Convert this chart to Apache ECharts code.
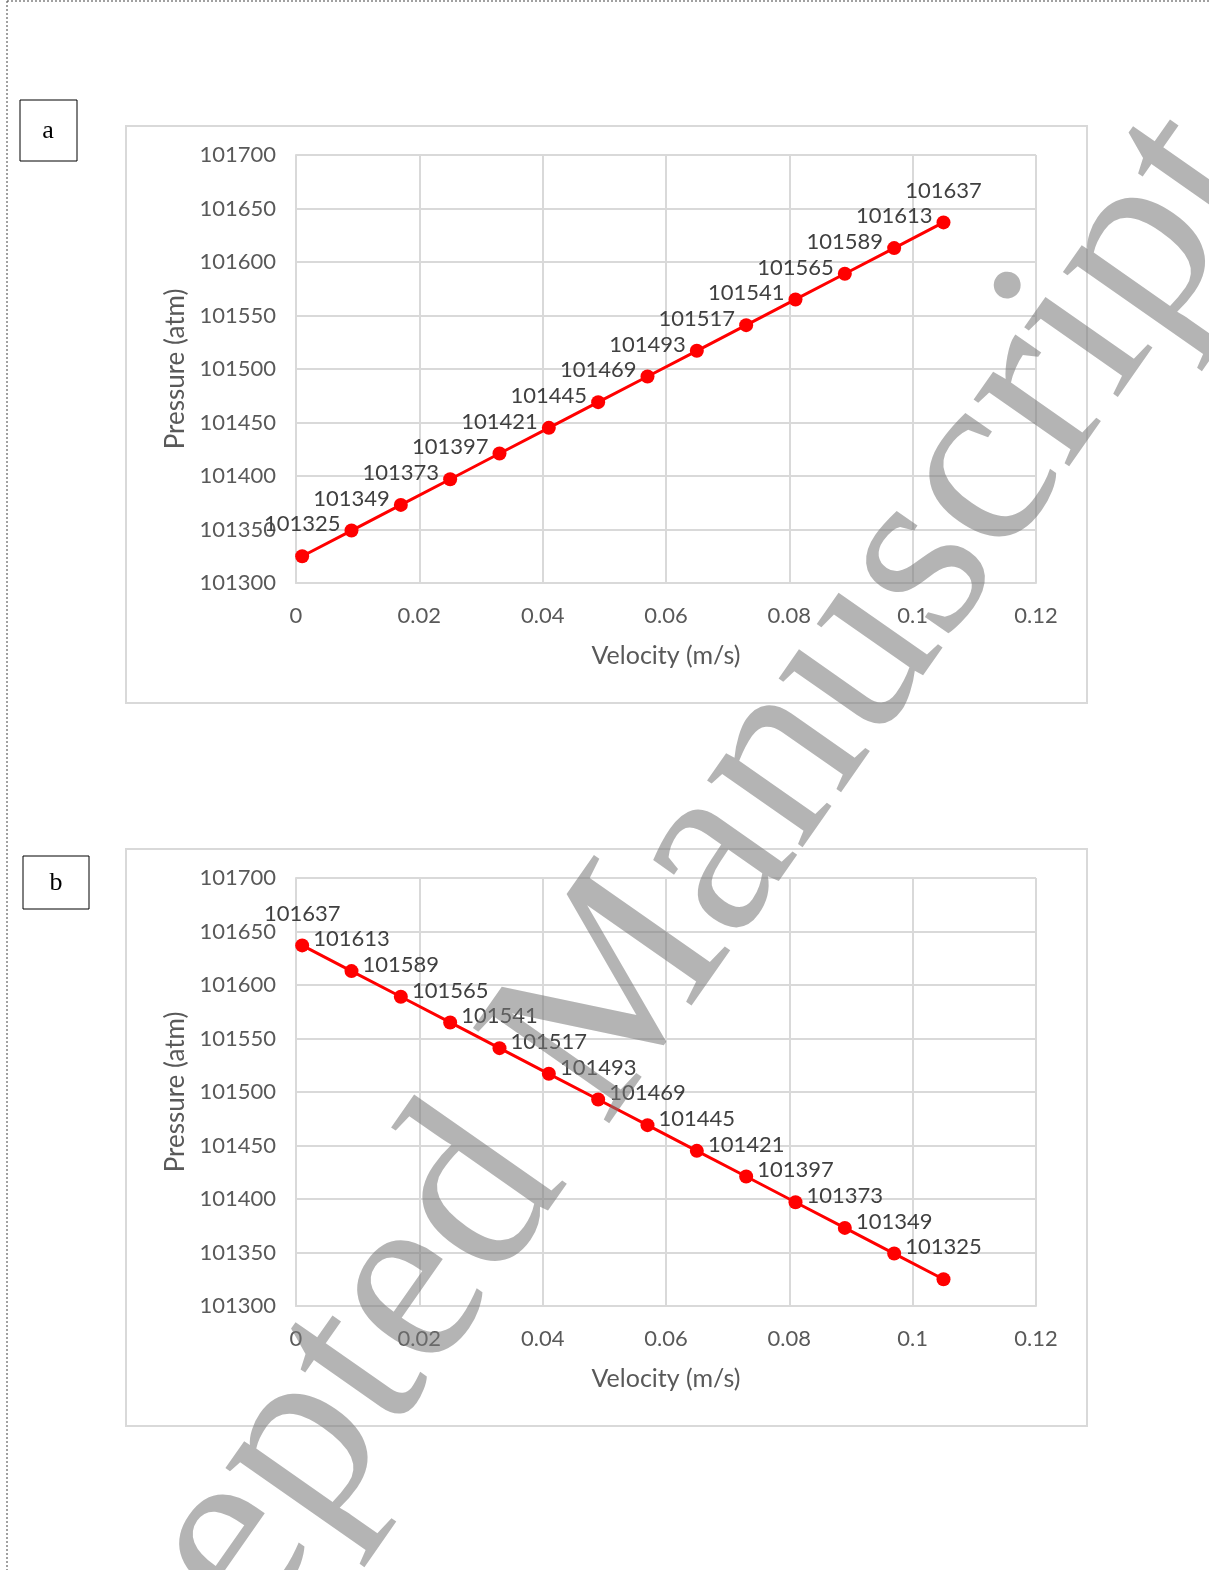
<!DOCTYPE html>
<html>
<head>
<meta charset="utf-8">
<script src="https://cdn.jsdelivr.net/npm/echarts@6/dist/echarts.min.js"></script>
<style>
html,body{margin:0;padding:0;background:#fff;}
#main{width:1209px;height:1570px;}
</style>
</head>
<body>
<div id="main"></div>
<script>
// Data
const velocity = [0.001, 0.009, 0.017, 0.025, 0.033, 0.041, 0.049, 0.057, 0.065, 0.073, 0.081, 0.089, 0.097, 0.105];
const pressureA = [101325, 101349, 101373, 101397, 101421, 101445, 101469, 101493, 101517, 101541, 101565, 101589, 101613, 101637];
const pressureB = [101637, 101613, 101589, 101565, 101541, 101517, 101493, 101469, 101445, 101421, 101397, 101373, 101349, 101325];
const panelLabels = ['a', 'b'];
const xName = 'Velocity (m/s)';
const yName = 'Pressure (atm)';
const watermarkText = 'Accepted Manuscript';

const FONT = 'Lato';
const tickColor = '#595959';
const gridColor = '#d9d9d9';

function makeX(idx) {
  return {
    gridIndex: idx, type: 'value', min: 0, max: 0.12, interval: 0.02,
    name: xName, nameLocation: 'middle', nameGap: 60,
    nameTextStyle: {fontSize: 25, color: tickColor, fontFamily: FONT},
    axisLine: {show: true, lineStyle: {color: gridColor, width: 2}},
    axisTick: {show: false},
    axisLabel: {margin: 22, fontSize: 22, color: tickColor, fontFamily: FONT,
      formatter: v => String(+v.toFixed(4))},
    splitLine: {show: true, lineStyle: {color: gridColor, width: 2}}
  };
}
function makeY(idx) {
  return {
    gridIndex: idx, type: 'value', min: 101300, max: 101700, interval: 50,
    name: yName, nameLocation: 'middle', nameGap: 94,
    nameTextStyle: {fontSize: 26, color: tickColor, fontFamily: FONT},
    axisLine: {show: true, lineStyle: {color: gridColor, width: 2}},
    axisTick: {show: false},
    axisLabel: {margin: 20, fontSize: 22, color: tickColor, fontFamily: FONT,
      formatter: v => String(v)},
    splitLine: {show: true, lineStyle: {color: gridColor, width: 2}}
  };
}
function makeSeries(idx, ys) {
  return {
    type: 'line', xAxisIndex: idx, yAxisIndex: idx,
    data: velocity.map((v, i) => [v, ys[i]]),
    symbol: 'circle', symbolSize: 14,
    lineStyle: {color: '#ff0000', width: 3},
    itemStyle: {color: '#ff0000'},
    label: {show: true, position: 'top', distance: 14, fontSize: 22, color: '#404040', fontFamily: FONT,
      formatter: p => String(p.value[1])},
    z: 5
  };
}

const chart = echarts.init(document.getElementById('main'), null, {renderer: 'canvas'});
chart.setOption({
  animation: false,
  backgroundColor: '#ffffff',
  grid: [
    {left: 296, top: 155, width: 740, height: 428},
    {left: 296, top: 878, width: 740, height: 428}
  ],
  xAxis: [makeX(0), makeX(1)],
  yAxis: [makeY(0), makeY(1)],
  series: [makeSeries(0, pressureA), makeSeries(1, pressureB)],
  graphic: [
    // page dotted border
    {type: 'line', shape: {x1: 7, y1: 1, x2: 1209, y2: 1}, style: {stroke: '#444', lineWidth: 1, lineDash: [2, 2]}},
    {type: 'line', shape: {x1: 7, y1: 1, x2: 7, y2: 1570}, style: {stroke: '#444', lineWidth: 1, lineDash: [2, 2]}},
    // chart frames
    {type: 'rect', shape: {x: 126, y: 126, width: 961, height: 577}, style: {fill: null, stroke: gridColor, lineWidth: 2}, z: -1},
    {type: 'rect', shape: {x: 126, y: 849, width: 961, height: 577}, style: {fill: null, stroke: gridColor, lineWidth: 2}, z: -1},
    // panel label boxes
    {type: 'rect', shape: {x: 20, y: 100, width: 57, height: 61}, style: {fill: '#fff', stroke: '#000', lineWidth: 1}},
    {type: 'text', x: 48, y: 131, style: {text: panelLabels[0], font: '26px "Liberation Serif"', fill: '#000', align: 'center', verticalAlign: 'middle', textAlign: 'center', textVerticalAlign: 'middle'}},
    {type: 'rect', shape: {x: 23, y: 856, width: 66, height: 53}, style: {fill: '#fff', stroke: '#000', lineWidth: 1}},
    {type: 'text', x: 56, y: 883, style: {text: panelLabels[1], font: '26px "Liberation Serif"', fill: '#000', align: 'center', verticalAlign: 'middle', textAlign: 'center', textVerticalAlign: 'middle'}},
    // watermark
    {type: 'text', x: 589, y: 1036, rotation: 55 * Math.PI / 180, z: 100,
      style: {text: watermarkText, font: '254px "Liberation Serif"', fill: 'rgba(119,119,119,0.55)',
        align: 'center', verticalAlign: 'middle', textAlign: 'center', textVerticalAlign: 'middle'}}
  ]
});
</script>
</body>
</html>
